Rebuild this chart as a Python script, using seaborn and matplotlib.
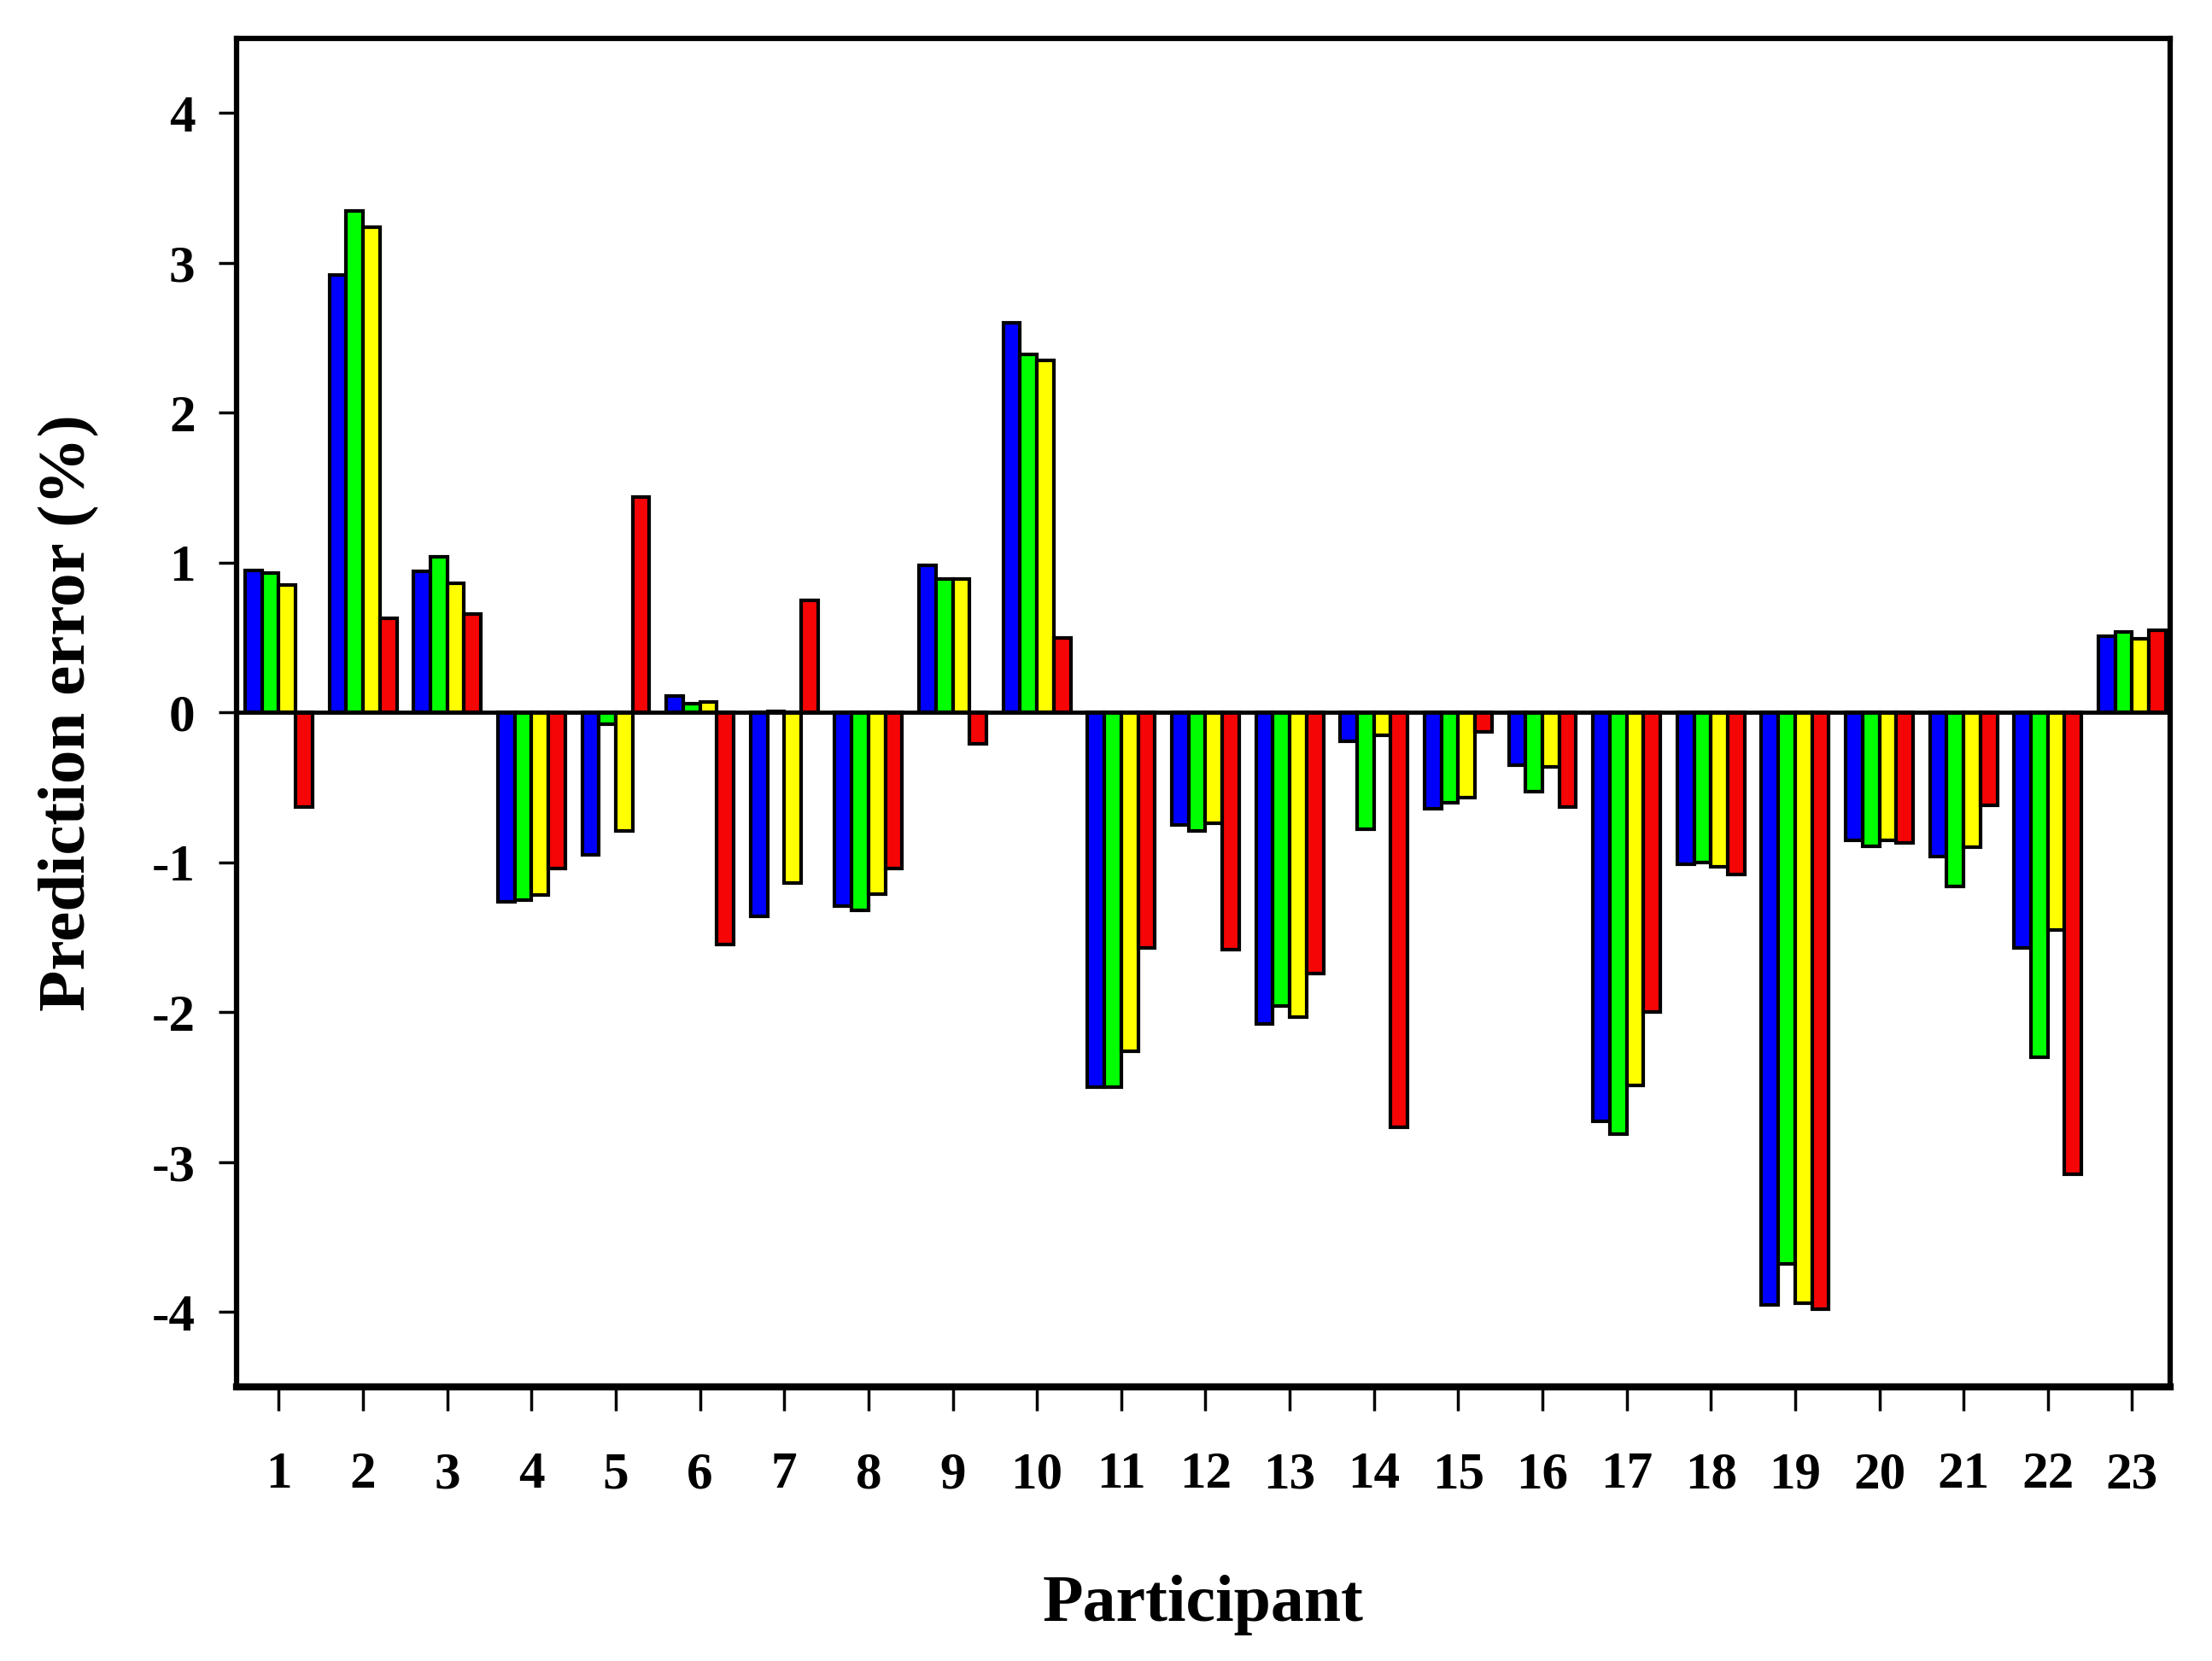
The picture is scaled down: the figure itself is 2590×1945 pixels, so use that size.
import numpy as np
import pandas as pd
import matplotlib
matplotlib.use('Agg')
import matplotlib.pyplot as plt
import seaborn as sns

"""Prediction error per participant, four series"""
participants = [str(i) for i in range(1, 24)]
series = ['S1', 'S2', 'S3', 'S4']
colors = ['#0000FF', '#00FF00', '#FFFF00', '#F50505']

s1 = [0.95, 2.92, 0.94, -1.26, -0.95, 0.11, -1.36, -1.29, 0.98, 2.60, -2.50, -0.75,
      -2.08, -0.19, -0.64, -0.35, -2.73, -1.01, -3.95, -0.85, -0.96, -1.57, 0.51]
s2 = [0.93, 3.35, 1.04, -1.25, -0.08, 0.06, 0.01, -1.32, 0.89, 2.39, -2.50, -0.79,
      -1.96, -0.78, -0.60, -0.53, -2.81, -1.00, -3.68, -0.89, -1.16, -2.30, 0.54]
s3 = [0.85, 3.24, 0.86, -1.22, -0.79, 0.07, -1.14, -1.21, 0.89, 2.35, -2.26, -0.74,
      -2.03, -0.15, -0.57, -0.36, -2.49, -1.03, -3.94, -0.85, -0.90, -1.45, 0.49]
s4 = [-0.63, 0.63, 0.66, -1.04, 1.44, -1.55, 0.75, -1.04, -0.21, 0.50, -1.57, -1.58,
      -1.74, -2.77, -0.13, -0.63, -2.00, -1.08, -3.98, -0.87, -0.62, -3.08, 0.55]

yticks = [-4, -3, -2, -1, 0, 1, 2, 3, 4]

df = pd.DataFrame({'participant': participants * 4,
                   'series': np.repeat(series, len(participants)),
                   'error': s1 + s2 + s3 + s4})

sns.set_style('white')
plt.rcParams['font.family'] = ['Liberation Serif', 'DejaVu Serif']
plt.rcParams['font.weight'] = 'bold'
plt.rcParams['text.color'] = 'black'
plt.rcParams['axes.labelcolor'] = 'black'
plt.rcParams['xtick.color'] = 'black'
plt.rcParams['ytick.color'] = 'black'

fig = plt.figure(figsize=(25.9, 19.45), dpi=100)
ax = fig.add_axes([0.107, 0.165, 0.874, 0.812])

sns.barplot(data=df, x='participant', y='error', hue='series', order=participants,
            hue_order=series, palette=colors, errorbar=None, width=0.8,
            edgecolor='black', linewidth=3, saturation=1, legend=False, ax=ax)

ax.axhline(0, color='black', lw=3.5, zorder=5)
ax.set_xlim(-0.5, 22.45)
ax.set_ylim(-4.5, 4.5)
ax.set_yticks(yticks)
ax.set_yticklabels([str(t) for t in yticks])

for sp in ax.spines.values():
    sp.set_visible(True)
    sp.set_color('black')
    sp.set_linewidth(4.5)
ax.spines['bottom'].set_linewidth(6)

ax.tick_params(axis='x', direction='out', length=20, width=2.5, pad=34,
               labelsize=44, bottom=True)
ax.tick_params(axis='y', direction='out', length=15, width=2.5, pad=20,
               labelsize=44, left=True)

ax.set_xlabel('Participant', fontsize=56, fontweight='bold', labelpad=64)
ax.set_ylabel('Prediction error (%)', fontsize=57, fontweight='bold', labelpad=44)

fig.savefig('out.png', dpi=100)
